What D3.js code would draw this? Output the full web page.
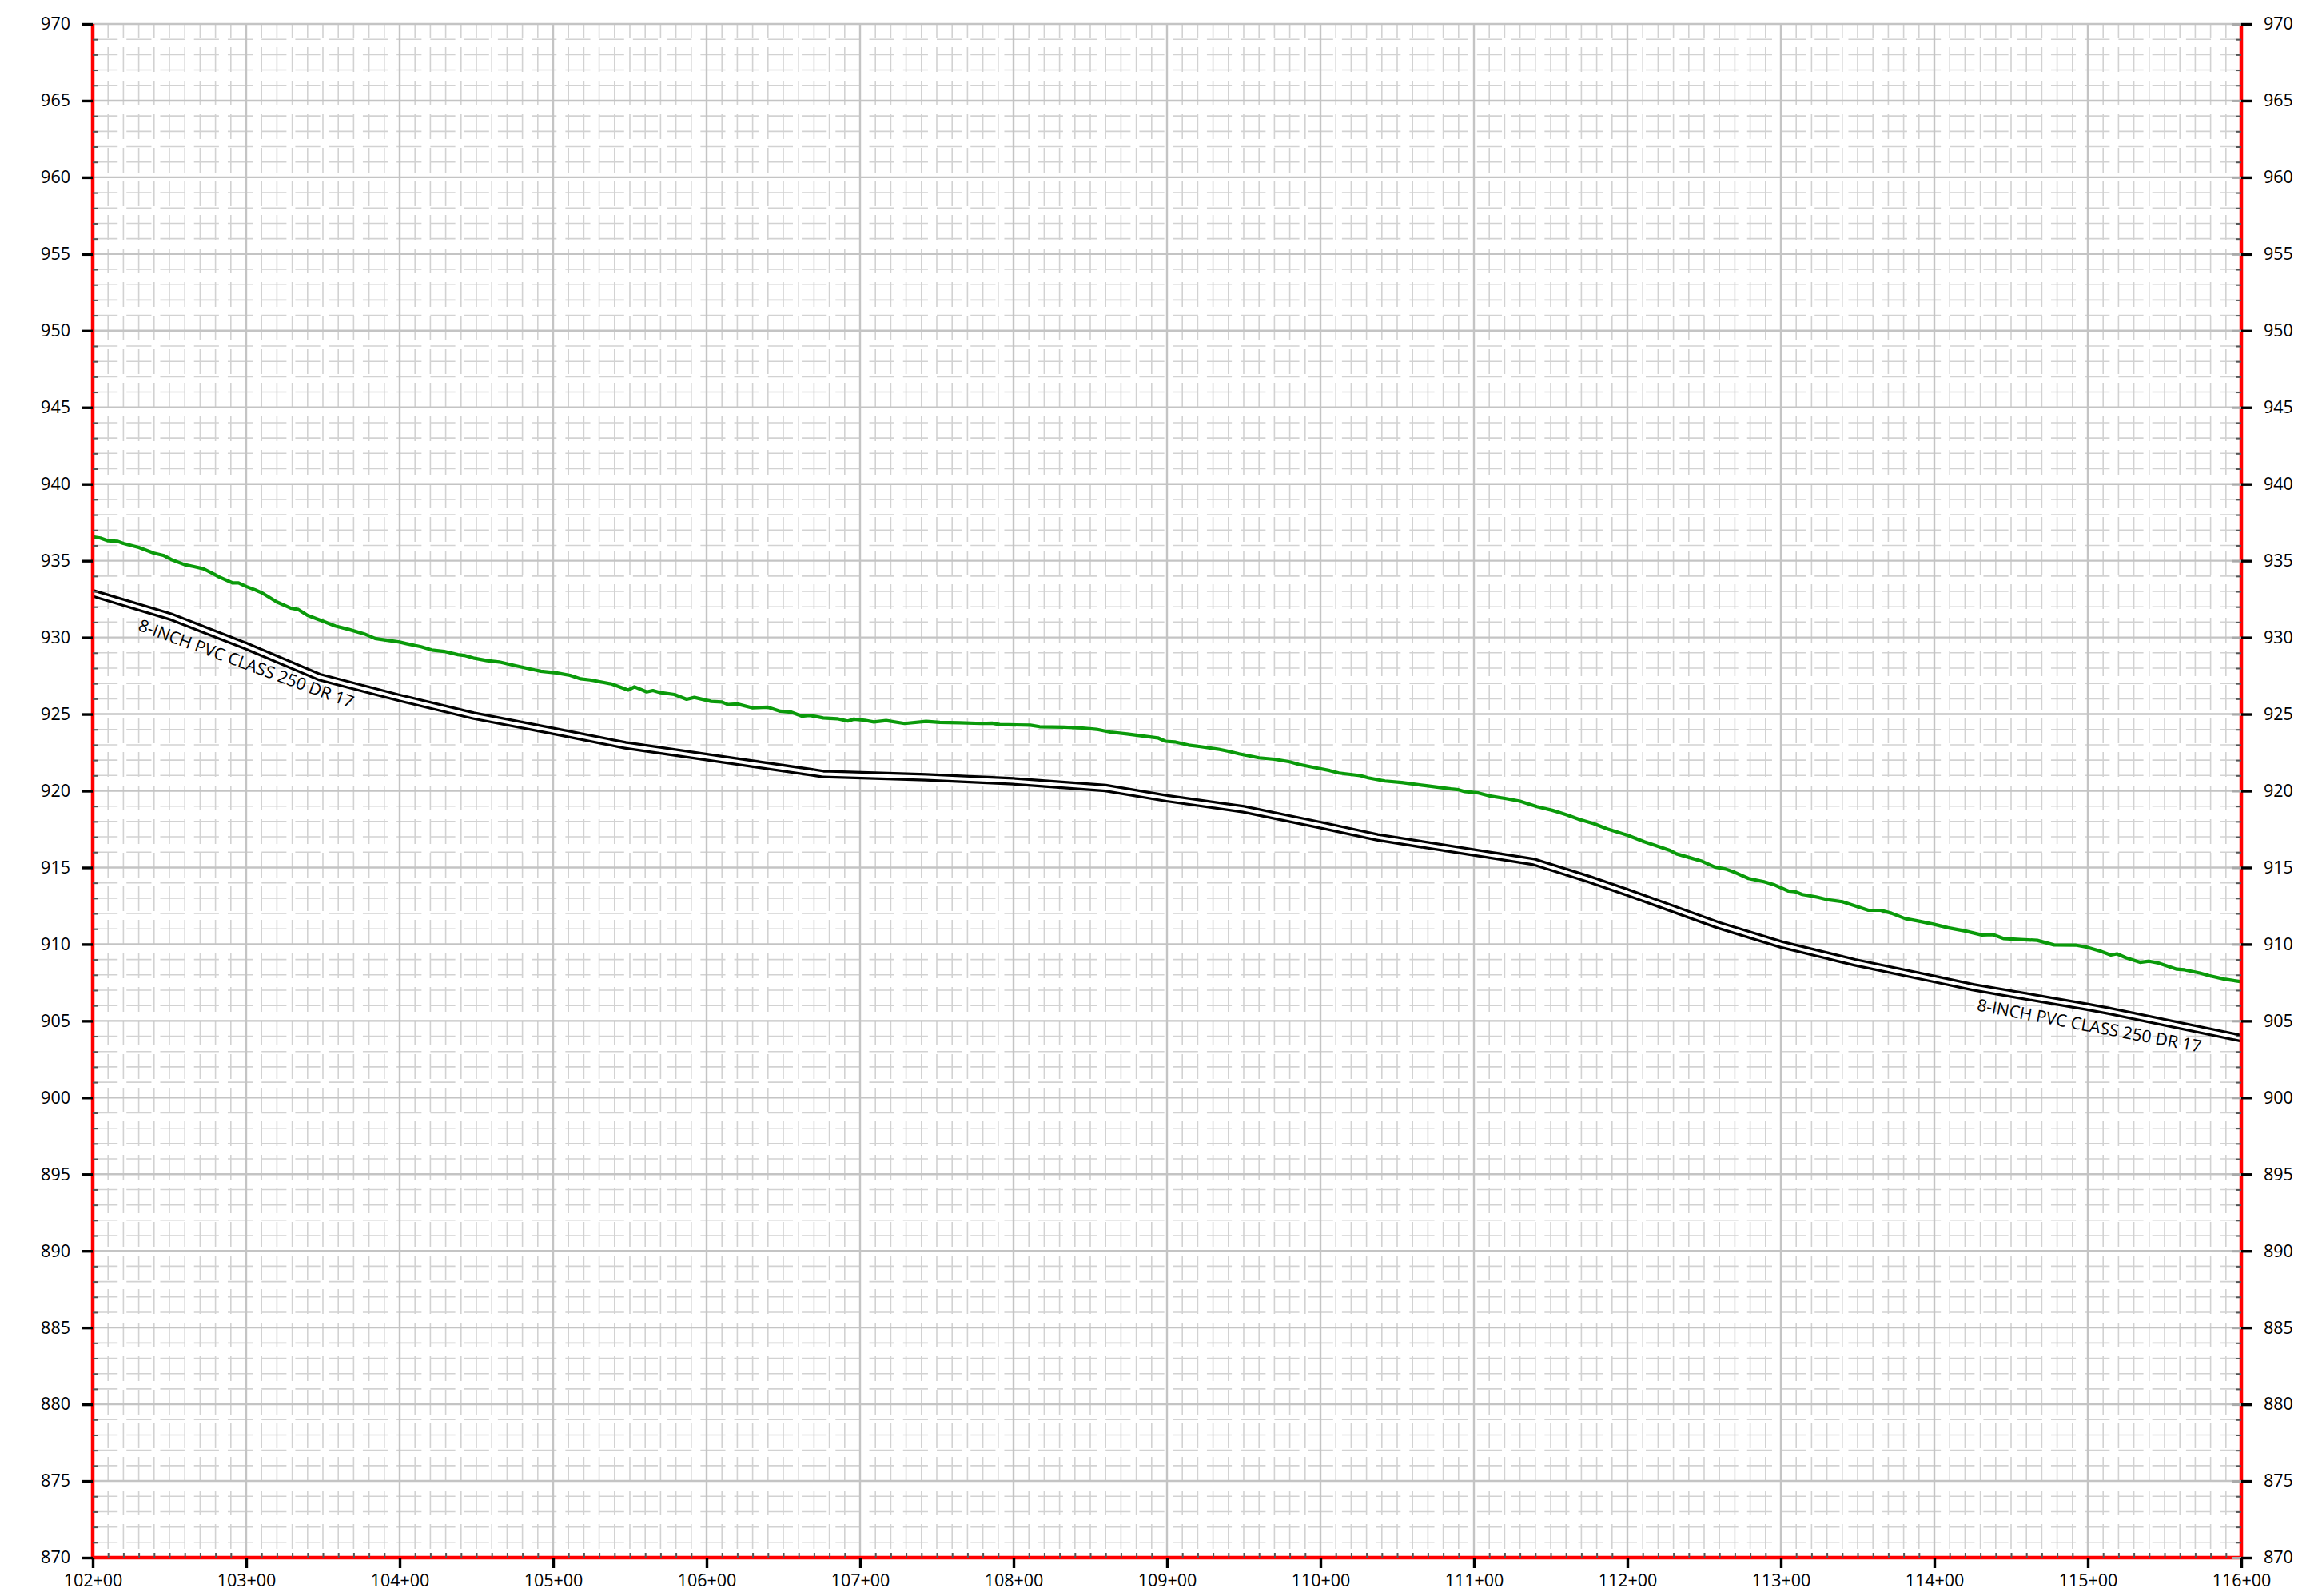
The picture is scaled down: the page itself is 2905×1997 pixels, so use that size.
<!DOCTYPE html>
<html>
<head>
<meta charset="utf-8">
<script src="https://cdn.jsdelivr.net/npm/d3@7"></script>
<style>
  body { margin: 0; background: #fff; }
  text { font-family: "Open Sans", sans-serif; }
</style>
</head>
<body>
<div id="profile"></div>
<script>
// station / elevation data
var groundSta = [
  10200, 10205, 10210, 10216, 10220, 10230, 10240, 10246, 10251, 10260, 10266, 10272, 10279, 10282,
  10291, 10295, 10300, 10306, 10310, 10320, 10329, 10334, 10340, 10350, 10358, 10367, 10377, 10384,
  10390, 10400, 10405, 10414, 10421, 10429, 10438, 10442, 10448, 10457, 10465, 10475, 10488, 10492,
  10502, 10511, 10518, 10524, 10527, 10538, 10549, 10553, 10561, 10565, 10570, 10579, 10587, 10592,
  10603, 10610, 10614, 10620, 10630, 10640, 10648, 10655, 10662, 10667, 10676, 10685, 10692, 10696,
  10703, 10709, 10717, 10729, 10743, 10752, 10765, 10779, 10786, 10791, 10811, 10817, 10833, 10845,
  10854, 10863, 10874, 10883, 10894, 10899, 10905, 10914, 10922, 10933, 10940, 10947, 10960, 10970,
  10980, 10986, 10999, 11006, 11012, 11026, 11031, 11042, 11053, 11069, 11085, 11090, 11094, 11103,
  11110, 11121, 11130, 11141, 11151, 11160, 11169, 11178, 11187, 11200, 11211, 11220, 11228, 11232,
  11241, 11248, 11257, 11264, 11270, 11279, 11289, 11296, 11305, 11309, 11314, 11323, 11331, 11340,
  11348, 11357, 11365, 11372, 11381, 11390, 11400, 11409, 11420, 11431, 11438, 11445, 11456, 11467,
  11478, 11492, 11499, 11508, 11515, 11519, 11525, 11534, 11540, 11546, 11558, 11563, 11573, 11579,
  11589, 11600
];
var groundElev = [
  936.56, 936.48, 936.30, 936.27, 936.13, 935.87, 935.49, 935.35, 935.09, 934.74, 934.62, 934.48, 934.13, 933.96,
  933.56, 933.56, 933.32, 933.09, 932.92, 932.31, 931.91, 931.82, 931.44, 931.06, 930.75, 930.52, 930.23, 929.93,
  929.84, 929.70, 929.58, 929.39, 929.18, 929.09, 928.88, 928.83, 928.66, 928.49, 928.40, 928.17, 927.88, 927.80,
  927.69, 927.53, 927.30, 927.23, 927.18, 926.97, 926.57, 926.78, 926.45, 926.54, 926.40, 926.28, 925.97, 926.09,
  925.83, 925.79, 925.62, 925.66, 925.41, 925.45, 925.19, 925.13, 924.87, 924.92, 924.75, 924.70, 924.55, 924.67,
  924.60, 924.49, 924.58, 924.39, 924.53, 924.46, 924.44, 924.39, 924.41, 924.32, 924.28, 924.18, 924.15, 924.09,
  924.01, 923.83, 923.71, 923.59, 923.45, 923.23, 923.19, 922.98, 922.88, 922.72, 922.58, 922.41, 922.15, 922.06,
  921.89, 921.72, 921.46, 921.32, 921.16, 920.99, 920.85, 920.64, 920.54, 920.33, 920.12, 920.07, 919.95, 919.86,
  919.67, 919.49, 919.32, 918.97, 918.73, 918.45, 918.12, 917.86, 917.51, 917.11, 916.68, 916.38, 916.10, 915.89,
  915.63, 915.43, 915.03, 914.90, 914.68, 914.28, 914.07, 913.86, 913.46, 913.43, 913.24, 913.08, 912.89, 912.77,
  912.51, 912.21, 912.21, 912.02, 911.67, 911.50, 911.29, 911.07, 910.86, 910.60, 910.63, 910.37, 910.30, 910.25,
  909.95, 909.94, 909.81, 909.55, 909.29, 909.37, 909.11, 908.82, 908.89, 908.77, 908.37, 908.33, 908.12, 907.95,
  907.72, 907.55
];

var pipeSta = [10200, 10251, 10300, 10348, 10400, 10448, 10500, 10547, 10600, 10676, 10743, 10800, 10860, 10900, 10950,
  11000, 11037, 11100, 11139, 11175, 11200, 11223, 11259, 11300, 11348, 11400, 11425, 11500, 11514, 11600];
var pipeElev = [932.88, 931.35, 929.44, 927.41, 926.06, 924.90, 923.90, 922.97, 922.20, 921.10, 920.89, 920.62, 920.18, 919.51, 918.80,
  917.77, 916.97, 915.98, 915.37, 914.24, 913.38, 912.55, 911.25, 909.99, 908.82, 907.73, 907.20, 905.91, 905.65, 903.87];

var pipeLabelText = "8-INCH PVC CLASS 250 DR 17";
var pipeLabelSta = [10234, 11430];

var xTicks = [10200, 10300, 10400, 10500, 10600, 10700, 10800, 10900, 11000, 11100, 11200, 11300, 11400, 11500, 11600];
var xTickLabels = ["102+00", "103+00", "104+00", "105+00", "106+00", "107+00", "108+00", "109+00",
  "110+00", "111+00", "112+00", "113+00", "114+00", "115+00", "116+00"];
var yTicks = [870, 875, 880, 885, 890, 895, 900, 905, 910, 915, 920, 925, 930, 935, 940, 945, 950, 955, 960, 965, 970];

var svgWidth = 2905;
var svgHeight = 1997;
var margin = { top: 30, right: 101, bottom: 48, left: 116 };
var width = svgWidth - margin.left - margin.right;
var height = svgHeight - margin.top - margin.bottom;

var svg = d3.select("#profile").append("svg")
  .attr("width", svgWidth)
  .attr("height", svgHeight);

svg.append("rect").attr("width", svgWidth).attr("height", svgHeight).attr("fill", "#fff");

var chartGroup = svg.append("g")
  .attr("transform", `translate(${margin.left}, ${margin.top})`);

var xScale = d3.scaleLinear().domain([10200, 11600]).range([0, width]);
var yScale = d3.scaleLinear().domain([870, 970]).range([height, 0]);

// minor grid (dashed), every 10 ft and 1 ft
var minorX = d3.range(10210, 11600, 10).filter(d => d % 100 !== 0);
var minorY = d3.range(871, 970, 1).filter(d => d % 5 !== 0);

chartGroup.append("g").selectAll("line")
  .data(minorX).enter().append("line")
  .attr("x1", d => xScale(d)).attr("x2", d => xScale(d))
  .attr("y1", 0).attr("y2", height)
  .attr("stroke", "#d2d2d2").attr("stroke-width", 1.6)
  .attr("stroke-dasharray", "31,11").attr("stroke-dashoffset", 13);

chartGroup.append("g").selectAll("line")
  .data(minorY).enter().append("line")
  .attr("x1", 0).attr("x2", width)
  .attr("y1", d => yScale(d)).attr("y2", d => yScale(d))
  .attr("stroke", "#d2d2d2").attr("stroke-width", 1.6)
  .attr("stroke-dasharray", "31.2,11.04");

// major grid
chartGroup.append("g").selectAll("line")
  .data(xTicks).enter().append("line")
  .attr("x1", d => xScale(d)).attr("x2", d => xScale(d))
  .attr("y1", 0).attr("y2", height)
  .attr("stroke", "#c4c4c4").attr("stroke-width", 2.4);

chartGroup.append("g").selectAll("line")
  .data(yTicks).enter().append("line")
  .attr("x1", 0).attr("x2", width)
  .attr("y1", d => yScale(d)).attr("y2", d => yScale(d))
  .attr("stroke", "#c4c4c4").attr("stroke-width", 2.4);

// ground line
var ground = groundSta.map((s, i) => ({ sta: s, elev: groundElev[i] }));
var pipe = pipeSta.map((s, i) => ({ sta: s, elev: pipeElev[i] }));

var line = d3.line()
  .x(d => xScale(d.sta))
  .y(d => yScale(d.elev));

chartGroup.append("path")
  .datum(ground)
  .attr("d", line)
  .attr("fill", "none")
  .attr("stroke", "#0a9a0a")
  .attr("stroke-width", 4.2)
  .attr("stroke-linejoin", "round");

// pipe drawn as double line
chartGroup.append("path")
  .datum(pipe)
  .attr("d", line)
  .attr("fill", "none")
  .attr("stroke", "#000")
  .attr("stroke-width", 10.5);

chartGroup.append("path")
  .datum(pipe)
  .attr("d", line)
  .attr("fill", "none")
  .attr("stroke", "#fff")
  .attr("stroke-width", 4);

// pipe labels
var pipeAt = d3.scaleLinear().domain(pipeSta).range(pipeElev);

pipeLabelSta.forEach(function(s) {
  var x0 = xScale(s), y0 = yScale(pipeAt(s));
  var x1 = xScale(s + 140), y1 = yScale(pipeAt(s + 140));
  var angle = Math.atan2(y1 - y0, x1 - x0) * 180 / Math.PI;
  chartGroup.append("text")
    .attr("transform", `translate(${x0}, ${y0}) rotate(${angle})`)
    .attr("dy", 28)
    .attr("font-family", "'Open Sans', sans-serif")
    .attr("font-size", "21px")
    .attr("textLength", 285)
    .attr("lengthAdjust", "spacingAndGlyphs")
    .attr("fill", "#000")
    .text(pipeLabelText);
});

// red frame
chartGroup.append("line").attr("x1", 0).attr("x2", 0).attr("y1", 0).attr("y2", height)
  .attr("stroke", "#ff0000").attr("stroke-width", 4.5);
chartGroup.append("line").attr("x1", width).attr("x2", width).attr("y1", 0).attr("y2", height)
  .attr("stroke", "#ff0000").attr("stroke-width", 4.5);
chartGroup.append("line").attr("x1", -2).attr("x2", width + 2).attr("y1", height).attr("y2", height)
  .attr("stroke", "#ff0000").attr("stroke-width", 4.5);

// minor ticks (inside)
function styleMinor(g) {
  g.select(".domain").remove();
  g.selectAll("line").attr("stroke", "#555").attr("stroke-width", 2);
}
chartGroup.append("g")
  .call(d3.axisLeft(yScale).tickValues(minorY).tickSize(-7).tickFormat(""))
  .call(styleMinor);
chartGroup.append("g")
  .attr("transform", `translate(${width}, 0)`)
  .call(d3.axisRight(yScale).tickValues(minorY).tickSize(-7).tickFormat(""))
  .call(styleMinor);
chartGroup.append("g")
  .attr("transform", `translate(0, ${height})`)
  .call(d3.axisBottom(xScale).tickValues(minorX).tickSize(-6).tickFormat(""))
  .call(styleMinor);

// grey inner stubs on the right axis
chartGroup.append("g")
  .attr("transform", `translate(${width}, 0)`)
  .call(d3.axisRight(yScale).tickValues(yTicks).tickSize(-12).tickFormat(""))
  .call(g => {
    g.select(".domain").remove();
    g.selectAll("line").attr("stroke", "#a9a9a9").attr("stroke-width", 3);
  });

// major ticks + labels
function styleMajor(g) {
  g.select(".domain").remove();
  g.selectAll("line").attr("stroke", "#000").attr("stroke-width", 3.4);
  g.selectAll("text")
    .attr("font-family", "'Open Sans', sans-serif")
    .attr("font-size", "21.5px")
    .attr("fill", "#000");
}

chartGroup.append("g")
  .call(d3.axisLeft(yScale).tickValues(yTicks).tickSize(13).tickPadding(15))
  .call(styleMajor);

chartGroup.append("g")
  .attr("transform", `translate(${width}, 0)`)
  .call(d3.axisRight(yScale).tickValues(yTicks).tickSize(13).tickPadding(15))
  .call(styleMajor);

chartGroup.append("g")
  .attr("transform", `translate(0, ${height})`)
  .call(d3.axisBottom(xScale).tickValues(xTicks).tickSize(13).tickPadding(8)
    .tickFormat((d, i) => xTickLabels[i]))
  .call(styleMajor);
</script>
</body>
</html>
